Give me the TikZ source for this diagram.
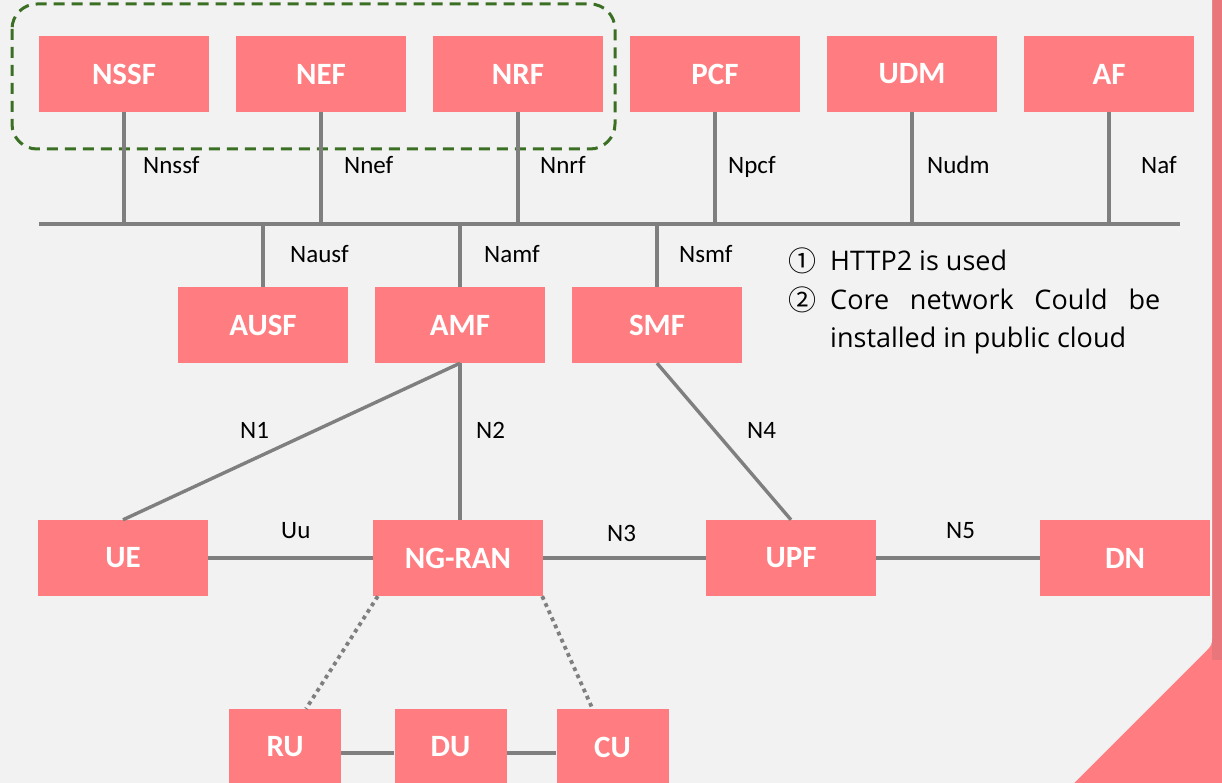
\documentclass[tikz,border=0pt]{standalone}
\usepackage{fontspec}
\setmainfont{Carlito}
\newfontfamily\notefont{Open Sans}
\newfontfamily\cjkfont{Noto Sans CJK SC}
\usetikzlibrary{calc}
\definecolor{bgc}{HTML}{F2F2F2}
\definecolor{boxc}{HTML}{FF7C80}
\definecolor{edgec}{HTML}{E8767A}
\definecolor{lnc}{HTML}{7F7F7F}
\definecolor{grnc}{HTML}{3B7024}
\begin{document}
\begin{tikzpicture}[x=1pt,y=-1pt,
  nf/.style={fill=boxc, text=white, font=\fontsize{31}{31}\selectfont\bfseries, minimum width=170pt, minimum height=76pt, inner sep=0pt},
  sf/.style={nf, minimum width=112pt},
  link/.style={draw=lnc, line width=3.4pt},
  dotlink/.style={draw=lnc, line width=3.8pt, dash pattern=on 3.8pt off 4pt},
  lbl/.style={anchor=base west, inner sep=0pt, font=\fontsize{25}{25}\selectfont},
  note/.style={anchor=base west, inner sep=0pt, font=\notefont\fontsize{27}{27}\selectfont},
  cnum/.style={anchor=base west, inner sep=0pt, font=\cjkfont\fontsize{28}{28}\selectfont},
  grp/.style={draw=grnc, line width=3pt, dash pattern=on 11pt off 7pt, rounded corners=25pt}]
\useasboundingbox (0,0) rectangle (1222,783);
% page background with folded corner
\fill[boxc] (0,0) rectangle (1222,783);
\fill[edgec] (1212,0) rectangle (1222,660);
\fill[bgc] (0,0) -- (1212,0) -- (1212,636) .. controls (1212,645) .. (1205,652) -- (1074,783) -- (0,783) -- cycle;
% group
\draw[grp] (12,4) rectangle (615,149);
% nodes
\node[nf] (nssf) at (124,74) {NSSF};
\node[nf] (nef) at (321,74) {NEF};
\node[nf] (nrf) at (518,74) {NRF};
\node[nf] (pcf) at (715,74) {PCF};
\node[nf] (udm) at (912,74) {UDM};
\node[nf] (af) at (1109,74) {AF};
\node[nf] (ausf) at (263,325) {AUSF};
\node[nf] (amf) at (460,325) {AMF};
\node[nf] (smf) at (657,325) {SMF};
\node[nf] (ue) at (123,558) {UE};
\node[nf] (ngran) at (458,558) {NG-RAN};
\node[nf] (upf) at (791,558) {UPF};
\node[nf] (dn) at (1125,558) {DN};
\node[sf] (ru) at (285,747) {RU};
\node[sf] (du) at (450.5,747) {DU};
\node[sf] (cu) at (612.5,747) {CU};
% bus
\coordinate (busL) at (39,224);
\coordinate (busR) at (1180,224);
\draw[link] (busL) -- (busR);
\foreach \n in {nssf,nef,nrf,pcf,udm,af}{
  \draw[link] (\n.south) -- (\n.south |- busL);
}
\foreach \n in {ausf,amf,smf}{
  \draw[link] (\n.north) -- (\n.north |- busL);
}
% links
\draw[link] (amf.south) -- (ue.north);
\draw[link] (amf.south) -- (amf.south |- ngran.north);
\draw[link] (smf.south) -- (upf.north);
\draw[link] (ue) -- (ngran);
\draw[link] (ngran) -- (upf);
\draw[link] (upf) -- (dn);
\draw[link] ($(ru.east)+(0,6)$) -- ($(du.west)+(0,6)$);
\draw[link] ($(du.east)+(0,6)$) -- ($(cu.west)+(0,6)$);
\draw[dotlink] ($(ngran.south west)+(5,0)$) -- ($(ru.north)+(21,0)$);
\draw[dotlink] ($(ngran.south east)+(-1,0)$) -- ($(cu.north)+(-20,0)$);
% labels
\node[lbl] (l1) at (143,174) {Nnssf};
\node[lbl] (l2) at (344,174) {Nnef};
\node[lbl] (l3) at (540,174) {Nnrf};
\node[lbl] (l4) at (728,174) {Npcf};
\node[lbl] (l5) at (927,174) {Nudm};
\node[lbl] (l6) at (1141,174) {Naf};
\node[lbl] (l7) at (290,263) {Nausf};
\node[lbl] (l8) at (484,263) {Namf};
\node[lbl] (l9) at (679,263) {Nsmf};
\node[lbl] (ln1) at (240,438) {N1};
\node[lbl] (ln2) at (476,438) {N2};
\node[lbl] (ln4) at (747,438) {N4};
\node[lbl] (luu) at (281,538) {Uu};
\node[lbl] (ln3) at (607,541) {N3};
\node[lbl] (ln5) at (946,538) {N5};
% note
\node[cnum] (c1) at (788,272) {①};
\node[note] (t1) at (830,271) {HTTP2 is used};
\node[cnum] (c2) at (788,310) {②};
\node[note] (t2) at (830,309) {\makebox[330pt][s]{Core network Could be}};
\node[note] (t3) at (830,347) {installed in public cloud};
\end{tikzpicture}
\end{document}
